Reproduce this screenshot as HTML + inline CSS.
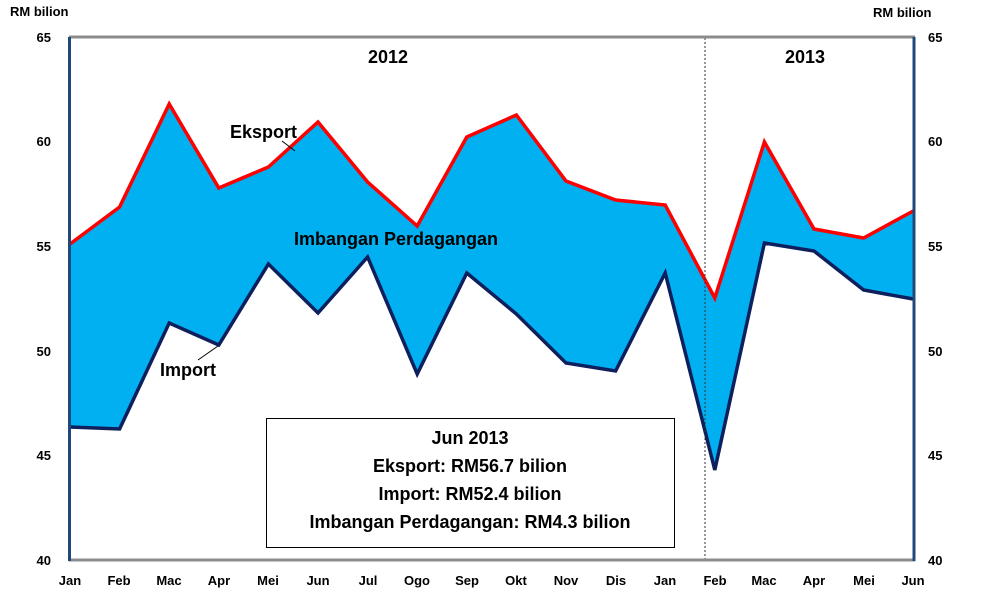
<!DOCTYPE html>
<html><head><meta charset="utf-8"><style>
html,body{margin:0;padding:0;background:#fff;}
svg{display:block;font-family:"Liberation Sans",sans-serif;font-weight:bold;}
</style></head><body>
<svg width="985" height="589" viewBox="0 0 985 589" xmlns="http://www.w3.org/2000/svg">
<rect width="985" height="589" fill="#fff"/>
<polygon fill="#00b0f0" points="70,244 119.6,207 169.2,104 218.8,188 268.4,167 318,122 367.6,182 417.2,226 466.8,137 516.4,115 566,181 615.6,200 665.2,205 714.8,298 764.4,142 814,229 863.6,238 913.2,211 913.2,299 863.6,290 814,251 764.4,243 714.8,470 665.2,273 615.6,371 566,363 516.4,314 466.8,273 417.2,374 367.6,257 318,313 268.4,264 218.8,345 169.2,323 119.6,429 70,427"/>
<polyline fill="none" stroke="#ff0000" stroke-width="3.5" stroke-linejoin="miter" points="70,244 119.6,207 169.2,104 218.8,188 268.4,167 318,122 367.6,182 417.2,226 466.8,137 516.4,115 566,181 615.6,200 665.2,205 714.8,298 764.4,142 814,229 863.6,238 913.2,211"/>
<polyline fill="none" stroke="#0d1f5c" stroke-width="3.5" points="70,427 119.6,429 169.2,323 218.8,345 268.4,264 318,313 367.6,257 417.2,374 466.8,273 516.4,314 566,363 615.6,371 665.2,273 714.8,470 764.4,243 814,251 863.6,290 913.2,299"/>
<line x1="705" y1="38" x2="705" y2="560" stroke="#333" stroke-width="1" stroke-dasharray="2,2"/>
<line x1="69" y1="37" x2="915" y2="37" stroke="#8c8c8c" stroke-width="3"/>
<line x1="69" y1="560" x2="915" y2="560" stroke="#8c8c8c" stroke-width="3"/>
<line x1="69.5" y1="37" x2="69.5" y2="561" stroke="#1f497d" stroke-width="3"/>
<line x1="914" y1="37" x2="914" y2="561" stroke="#1f497d" stroke-width="3"/>
<g font-size="13" fill="#000">
<text x="10" y="16">RM bilion</text>
<text x="873" y="17">RM bilion</text>
<g text-anchor="end">
<text x="51" y="42">65</text><text x="51" y="146">60</text><text x="51" y="251">55</text><text x="51" y="356">50</text><text x="51" y="460">45</text><text x="51" y="565">40</text>
</g>
<g text-anchor="start">
<text x="928" y="42">65</text><text x="928" y="146">60</text><text x="928" y="251">55</text><text x="928" y="356">50</text><text x="928" y="460">45</text><text x="928" y="565">40</text>
</g>
<g text-anchor="middle">
<text x="70" y="585">Jan</text><text x="119" y="585">Feb</text><text x="169" y="585">Mac</text><text x="219" y="585">Apr</text><text x="268" y="585">Mei</text><text x="318" y="585">Jun</text><text x="368" y="585">Jul</text><text x="417" y="585">Ogo</text><text x="467" y="585">Sep</text><text x="516" y="585">Okt</text><text x="566" y="585">Nov</text><text x="616" y="585">Dis</text><text x="665" y="585">Jan</text><text x="715" y="585">Feb</text><text x="764" y="585">Mac</text><text x="814" y="585">Apr</text><text x="864" y="585">Mei</text><text x="913" y="585">Jun</text>
</g>
</g>
<g font-size="18" fill="#000" text-anchor="middle">
<text x="388" y="63">2012</text>
<text x="805" y="63">2013</text>
</g>
<text x="230" y="138" font-size="18">Eksport</text>
<line x1="282" y1="141" x2="295" y2="151" stroke="#000" stroke-width="1"/>
<text x="294" y="245" font-size="18">Imbangan Perdagangan</text>
<text x="160" y="376" font-size="18">Import</text>
<line x1="198" y1="360" x2="218" y2="346" stroke="#000" stroke-width="1"/>
<rect x="266.5" y="418.5" width="408" height="129" fill="#fff" stroke="#000" stroke-width="1"/>
<g font-size="18" text-anchor="middle" fill="#000">
<text x="470" y="444">Jun 2013</text>
<text x="470" y="472">Eksport: RM56.7 bilion</text>
<text x="470" y="500">Import: RM52.4 bilion</text>
<text x="470" y="528">Imbangan Perdagangan: RM4.3 bilion</text>
</g>
</svg>
</body></html>
